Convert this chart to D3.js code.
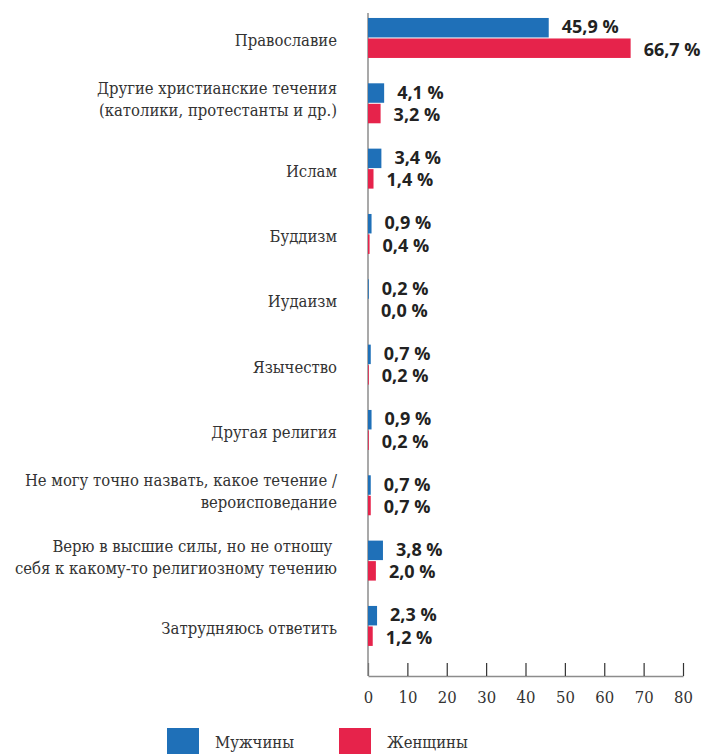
<!DOCTYPE html>
<html>
<head>
<meta charset="utf-8">
<script src="https://cdn.jsdelivr.net/npm/d3@7"></script>
<style>
    body { margin: 0; background: #fff; }
    svg { display: block; }
    .serif { font-family: "DejaVu Serif", "Liberation Serif", serif; font-stretch: condensed; }
</style>
</head>
<body>
<svg id="chart"></svg>
<script>
const categories = [
    ["Православие"],
    ["Другие христианские течения", "(католики, протестанты и др.)"],
    ["Ислам"],
    ["Буддизм"],
    ["Иудаизм"],
    ["Язычество"],
    ["Другая религия"],
    ["Не могу точно назвать, какое течение /", "вероисповедание"],
    ["Верю в высшие силы, но не отношу\u00a0", "себя к какому-то религиозному течению"],
    ["Затрудняюсь ответить"]
];
const men = [45.9, 4.1, 3.4, 0.9, 0.2, 0.7, 0.9, 0.7, 3.8, 2.3];
const women = [66.7, 3.2, 1.4, 0.4, 0.0, 0.2, 0.2, 0.7, 2.0, 1.2];
const seriesNames = ["Мужчины", "Женщины"];
const xTicks = [0, 10, 20, 30, 40, 50, 60, 70, 80];

const width = 705;
const height = 754;
const colors = ["#1f70b8", "#e6234b"];
const sans = "'Open Sans', 'Noto Sans', sans-serif";

const svg = d3.select("#chart")
    .attr("width", width)
    .attr("height", height);

const x = d3.scaleLinear()
    .domain([0, 80])
    .range([368, 683]);

const y = d3.scaleBand()
    .domain(d3.range(categories.length))
    .range([5.3, 658.6])
    .paddingInner(0.388)
    .paddingOuter(0.194);

const ySub = d3.scaleBand()
    .domain([0, 1])
    .range([0, y.bandwidth()])
    .paddingInner(0.05);

const axisY = 676;

// ось X
const xAxis = d3.axisBottom(x)
    .tickValues(xTicks)
    .tickSizeInner(-13)
    .tickSizeOuter(0)
    .tickPadding(15)
    .tickFormat(d3.format("d"));

const gx = svg.append("g")
    .attr("transform", `translate(0,${axisY})`)
    .call(xAxis)
    .attr("font-family", null);

gx.select(".domain")
    .attr("stroke", "#8c8c8c")
    .attr("stroke-width", 1.5);
gx.selectAll(".tick line")
    .attr("stroke", "#333")
    .attr("stroke-width", 1.2);
gx.selectAll(".tick text")
    .attr("class", "serif")
    .attr("fill", "#333")
    .attr("font-size", 16.5);

// вертикальная линия
svg.append("line")
    .attr("x1", x(0))
    .attr("x2", x(0))
    .attr("y1", 13)
    .attr("y2", axisY)
    .attr("stroke", "#8c8c8c")
    .attr("stroke-width", 1.5);

// группы
const groups = svg.append("g")
    .selectAll("g")
    .data(categories.map((c, i) => ({ i, lines: c, vals: [men[i], women[i]] })))
    .join("g")
    .attr("transform", d => `translate(0,${y(d.i)})`);

// подписи категорий
groups.append("text")
    .attr("class", "serif")
    .attr("text-anchor", "end")
    .attr("fill", "#333")
    .attr("font-size", 16.5)
    .each(function (d) {
        const t = d3.select(this);
        const mid = y.bandwidth() / 2;
        d.lines.forEach((line, k) => {
            const base = d.lines.length === 1
                ? mid + 8
                : mid + 2 + (k === 0 ? -11 : 11);
            t.append("tspan")
                .attr("x", 337)
                .attr("y", base)
                .text(line);
        });
    });

// столбики
groups.selectAll("rect")
    .data(d => d.vals)
    .join("rect")
    .attr("x", x(0))
    .attr("y", (v, k) => ySub(k))
    .attr("width", v => x(v) - x(0))
    .attr("height", ySub.bandwidth())
    .attr("fill", (v, k) => colors[k]);

// значения
groups.selectAll("text.value")
    .data(d => d.vals)
    .join("text")
    .attr("class", "value")
    .attr("x", v => x(v) + 13)
    .attr("y", (v, k) => ySub(k) + ySub.bandwidth() / 2 + (k === 0 ? -1 : 1))
    .attr("dy", "0.36em")
    .attr("fill", "#222")
    .style("font-family", sans)
    .style("font-weight", "700")
    .style("font-size", "18px")
    .text(v => d3.format(".1f")(v).replace(".", ",") + " %");

// легенда
const legend = svg.append("g")
    .selectAll("g")
    .data(seriesNames)
    .join("g")
    .attr("transform", (d, i) => `translate(${167 + i * 172},728)`);

legend.append("rect")
    .attr("width", 32)
    .attr("height", 32)
    .attr("fill", (d, i) => colors[i]);

legend.append("text")
    .attr("class", "serif")
    .attr("x", 48)
    .attr("y", 20)
    .attr("fill", "#333")
    .attr("font-size", 16.5)
    .text(d => d);
</script>
</body>
</html>
